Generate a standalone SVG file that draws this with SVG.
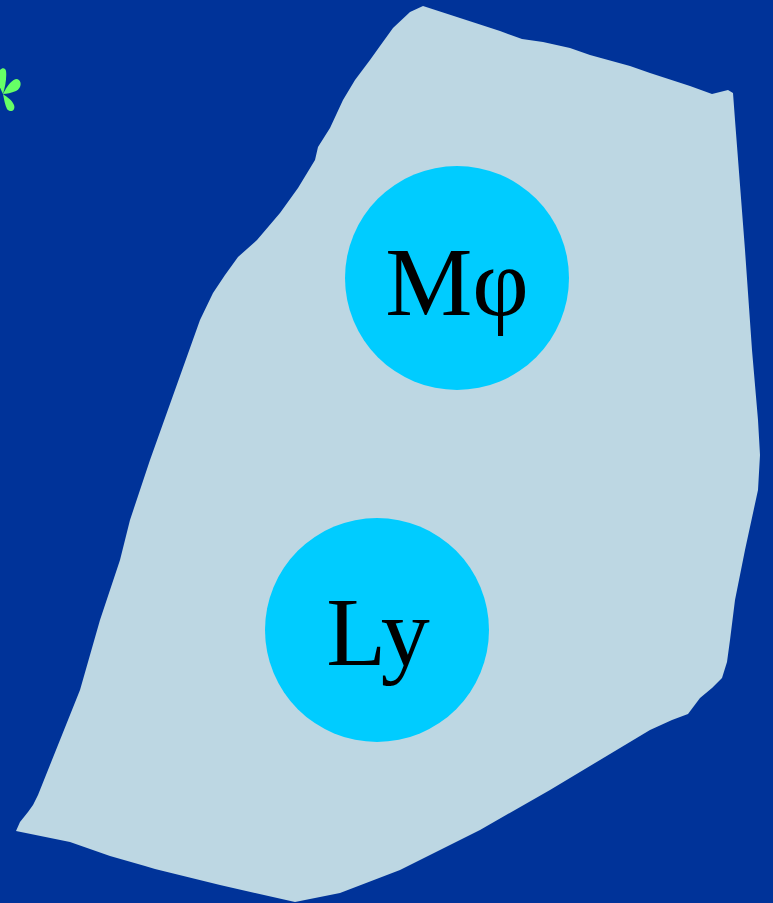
<svg xmlns="http://www.w3.org/2000/svg" width="773" height="903" viewBox="0 0 773 903">
<style>
.node{fill:#00CCFF}
.lbl{font-family:"Liberation Serif","Times New Roman",serif;font-size:98px;fill:#000;text-anchor:middle}
</style>
<rect width="773" height="903" fill="#003399"/>
<g id="tissue">
<path fill="#BDD7E3" d="M380,46 L393,28 L410,12 L423,6 L460,18 L500,31 L522,39 L543,42 L570,48 L590,55 L630,66 L650,73 L690,86 L712,94 L728,90 L733,93 L735,120 L745,250 L752,350 L758,420 L760,455 L758,490 L745,550 L735,600 L730,640 L727,662 L722,678 L712,688 L700,698 L688,714 L672,720 L650,730 L600,760 L550,790 L480,830 L400,870 L340,893 L295,902 L220,885 L155,869 L145,866 L110,856 L70,842 L16,831 L20,822 L28,812 L33,805 L38,795 L44,780 L60,740 L80,690 L100,620 L120,560 L130,520 L150,460 L175,390 L200,320 L213,293 L225,275 L238,257 L257,240 L280,213 L298,188 L315,160 L318,147 L330,128 L343,100 L355,80 L370,60 Z"/>
</g>
<g id="flower" fill="#66FF66">
<path d="M3,94 C7,86 12,79 17,79 C22,80 22,88 16,91 C11,93 7,94 3,94 Z"/>
<path d="M3,94 C7,97 12,100 14,105 C16,111 10,113 7,109 C5,105 4,99 3,94 Z"/>
<path d="M3,94 C0,88 -3,82 -2,75 C-1,68 5,66 6,71 C7,78 5,87 3,94 Z"/>
</g>
<g id="macrophage">
<circle class="node" cx="457" cy="278" r="112"/>
<text class="lbl" x="457" y="315">Mφ</text>
</g>
<g id="lymphocyte">
<circle class="node" cx="377" cy="630" r="112"/>
<text class="lbl" x="378" y="665">Ly</text>
</g>
<g id="connectors"/>
</svg>
